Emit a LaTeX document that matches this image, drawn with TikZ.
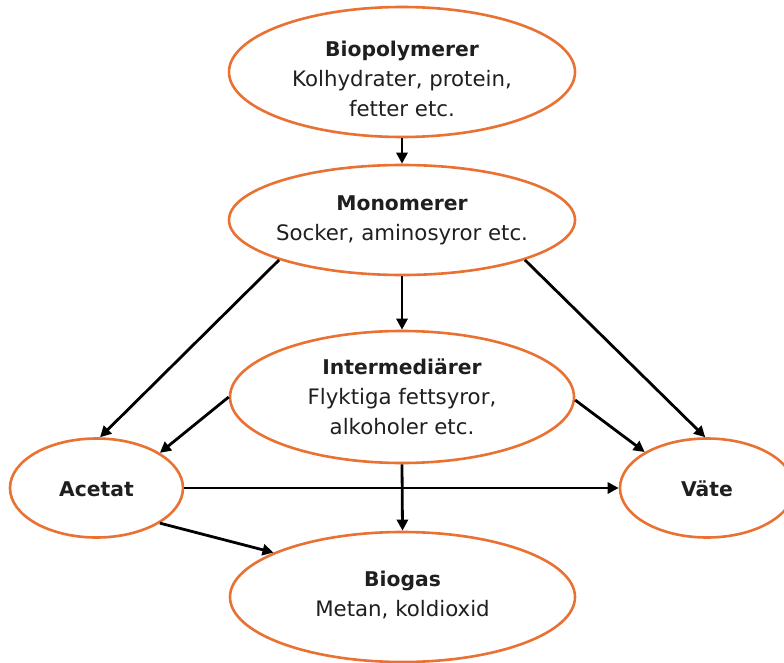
\documentclass[tikz,border=0pt]{standalone}
\usepackage{fontspec}
\setmainfont{DejaVu Sans}
\usetikzlibrary{shapes.geometric,arrows.meta}
\definecolor{ringorange}{RGB}{233,113,50}
\newcommand\ringtitle[1]{{\fontsize{20.3}{30}\selectfont\bfseries #1}}
\tikzset{
  ring/.style={draw=ringorange, line width=2.6pt, ellipse, inner sep=0pt},
  conn/.style={line width=2.8pt, -{Triangle[length=11pt,width=11pt]}},
  txt/.style={align=center, font=\fontsize{21.3}{30}\selectfont, text=black!88, inner sep=0pt}
}
\begin{document}
\begin{tikzpicture}[x=1pt,y=-1pt]
\clip (0,0) rectangle (784,663);
\fill[white] (0,0) rectangle (784,663);
\node[ring, minimum width=346pt, minimum height=130pt] (bio) at (402,72) {};
\node[ring, minimum width=346pt, minimum height=110pt] (mono) at (402,220) {};
\node[ring, minimum width=344pt, minimum height=132pt] (inter) at (402,397) {};
\node[ring, minimum width=173pt, minimum height=99pt] (acetat) at (96.5,488) {};
\node[ring, minimum width=174pt, minimum height=99pt] (vate) at (707,488) {};
\node[ring, minimum width=345pt, minimum height=130pt] (biogas) at (402.5,597) {};

\node[txt] (biotxt) at (402,79) {\ringtitle{Biopolymerer}\\Kolhydrater, protein,\\fetter etc.};
\node[txt] (monotxt) at (402,220) {\ringtitle{Monomerer}\\Socker, aminosyror etc.};
\node[txt] (intertxt) at (402,397) {\ringtitle{Intermediärer}\\Flyktiga fettsyror,\\alkoholer etc.};
\node[txt] (acetattxt) at (96.5,489) {\ringtitle{Acetat}};
\node[txt] (vatetxt) at (707,489) {\ringtitle{Väte}};
\node[txt] (biogastxt) at (402.5,595) {\ringtitle{Biogas}\\Metan, koldioxid};

\draw[conn] (bio.south) -- (mono.north);
\draw[conn] (mono.south) -- (inter.north);
\draw[conn] (inter.south) -- (biogas.north);
\draw[conn] (mono.198.3) -- (acetat.86);
\draw[conn] (mono.342) -- (vate.92);
\draw[conn] (inter.180.7) -- (acetat.29.6);
\draw[conn] (inter.359.5) -- (vate.150);
\draw[conn] (acetat.east) -- (vate.west);
\draw[conn] (acetat.-29.6) -- (biogas.161.8);
\end{tikzpicture}
\end{document}
